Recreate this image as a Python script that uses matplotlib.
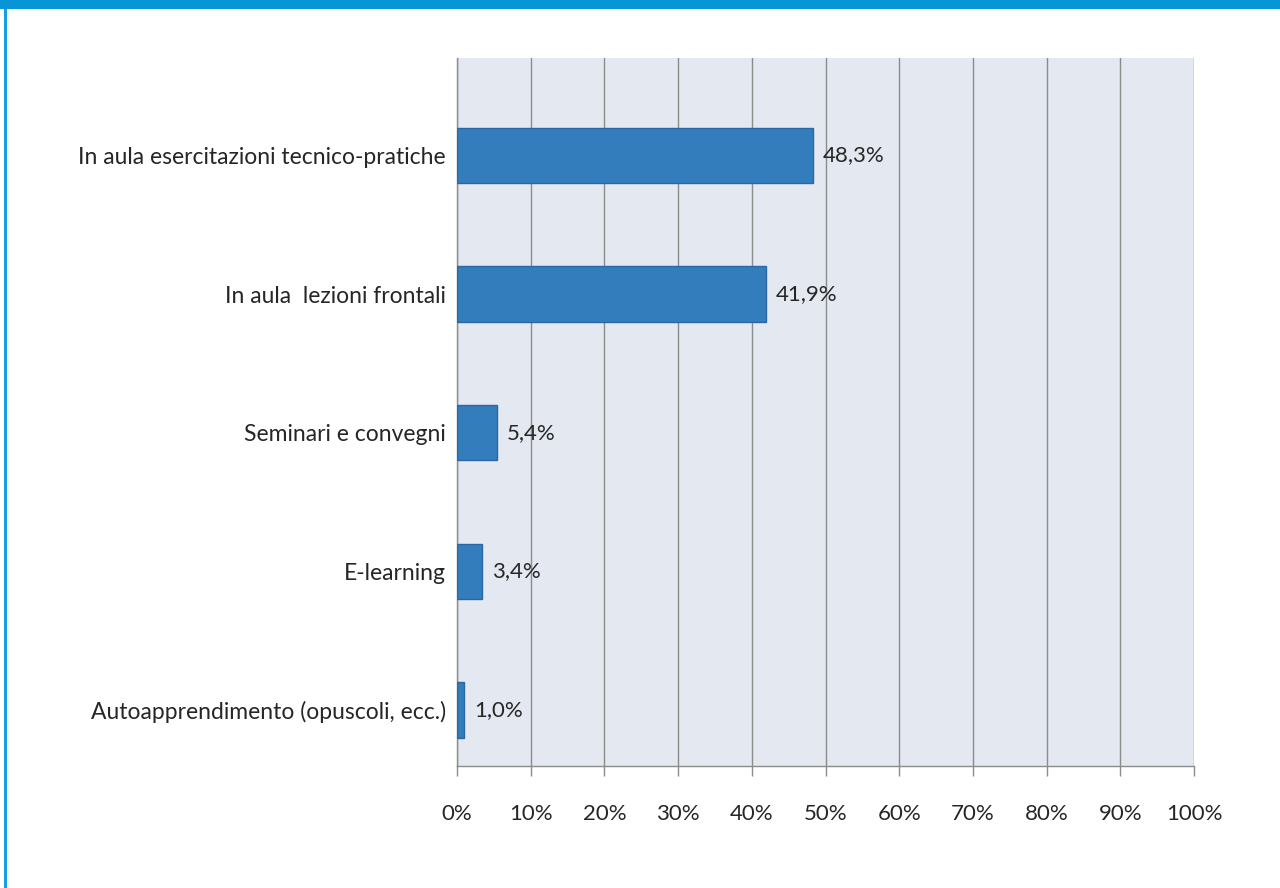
import matplotlib
matplotlib.use("Agg")
import matplotlib.pyplot as plt
from matplotlib.patches import Rectangle
from matplotlib.ticker import FixedLocator

categories = [
    "In aula esercitazioni tecnico-pratiche",
    "In aula  lezioni frontali",
    "Seminari e convegni",
    "E-learning",
    "Autoapprendimento (opuscoli, ecc.)",
]
values = [48.3, 41.9, 5.4, 3.4, 1.0]
value_labels = ["48,3%", "41,9%", "5,4%", "3,4%", "1,0%"]
xticks = [0, 10, 20, 30, 40, 50, 60, 70, 80, 90, 100]
xtick_labels = [f"{t}%" for t in xticks]

plt.rcParams["font.family"] = ["Lato", "DejaVu Sans"]

W, H = 1280, 888
fig = plt.figure(figsize=(W / 100, H / 100), dpi=100)

# decorative border
fig.patches.append(Rectangle((0, 1 - 9 / H), 1, 9 / H, transform=fig.transFigure,
                             facecolor="#0795d6", edgecolor="none", zorder=0))
fig.patches.append(Rectangle((4 / W, 0), 3 / W, 1 - 9 / H, transform=fig.transFigure,
                             facecolor="#16a0e0", edgecolor="none", zorder=0))

ax = fig.add_axes([457 / W, 1 - 766 / H, (1194 - 457) / W, (766 - 58) / H])
ax.set_facecolor("#e4e8f0")

y = list(range(len(categories)))
ax.barh(y, values, height=0.40, color="#337dbc", edgecolor="#2a68a3", linewidth=1, zorder=3)

for yi, v, lab in zip(y, values, value_labels):
    ax.text(v + 1.3, yi, lab, va="center", ha="left", fontsize=16, color="#262626", zorder=4)

ax.set_xlim(0, 100)
ax.set_ylim(4.405, -0.703)
ax.xaxis.set_major_locator(FixedLocator(xticks))
ax.set_xticklabels(xtick_labels)
ax.set_yticks(y)
ax.set_yticklabels(categories)
ax.grid(axis="x", color="#8c8c8c", linewidth=1, zorder=1)
ax.set_axisbelow(True)

for s in ["top", "right"]:
    ax.spines[s].set_visible(False)
ax.spines["left"].set_color("#8c8c8c")
ax.spines["bottom"].set_color("#8c8c8c")
ax.spines["left"].set_linewidth(1)
ax.spines["bottom"].set_linewidth(1)

ax.tick_params(axis="x", length=7, width=1, color="#8c8c8c", pad=20, labelsize=16, labelcolor="#262626")
ax.tick_params(axis="y", length=0, pad=8, labelsize=16.5, labelcolor="#262626")

fig.savefig("out.png", dpi=100)
